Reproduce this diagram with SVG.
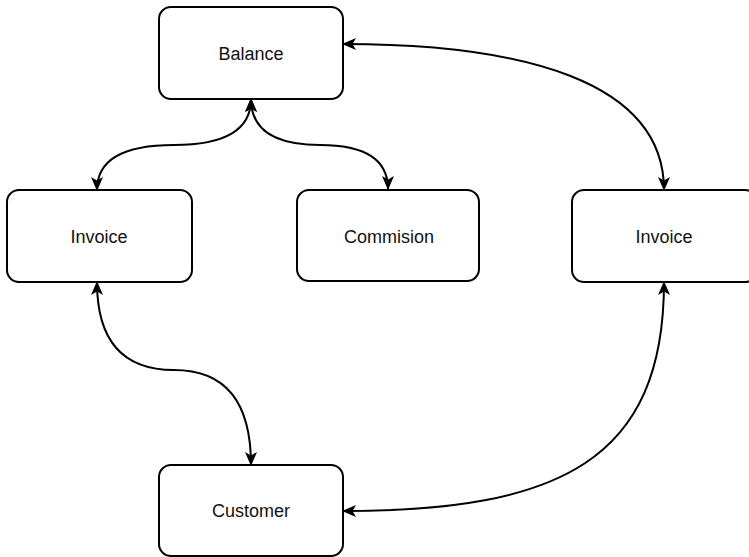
<svg xmlns="http://www.w3.org/2000/svg" width="749" height="557" viewBox="0 0 749 557">
<style>
.box{fill:#fff;stroke:#000;stroke-width:2}
.lbl{font-family:"Liberation Sans",Arial,sans-serif;font-size:18px;fill:#111;text-anchor:middle;dominant-baseline:central}
.edge{fill:none;stroke:#000;stroke-width:2;marker-start:url(#arr);marker-end:url(#arr)}
</style>
<defs>
<marker id="arr" viewBox="0 0 14 12" refX="13" refY="6" markerWidth="14" markerHeight="12" markerUnits="userSpaceOnUse" orient="auto-start-reverse">
<path d="M0,0 L14,6 L0,12 L3.5,6 Z" fill="#000"/>
</marker>
</defs>
<g id="connectors">
<path class="edge" d="M251,99 Q251,145 174,145 Q97,145 97,190"/>
<path class="edge" d="M251,99 Q251,145 320,145 Q388,145 388,189"/>
<path class="edge" d="M343,44 C520,44 664,80 664,190"/>
<path class="edge" d="M97,282 Q97,370 174,370 Q251,370 251,465"/>
<path class="edge" d="M664,282 C664,460 560,511 343,511"/>
</g>
<g id="balance"><rect class="box" x="159" y="7" width="184" height="92" rx="12"/><text class="lbl" x="251" y="54">Balance</text></g>
<g id="invoice-left"><rect class="box" x="7" y="190" width="185" height="92" rx="12"/><text class="lbl" x="99" y="237">Invoice</text></g>
<g id="commision"><rect class="box" x="297" y="190" width="182" height="91" rx="12"/><text class="lbl" x="389" y="237">Commision</text></g>
<g id="invoice-right"><rect class="box" x="572" y="190" width="185" height="92" rx="12"/><text class="lbl" x="664" y="237">Invoice</text></g>
<g id="customer"><rect class="box" x="159" y="465" width="184" height="91" rx="12"/><text class="lbl" x="251" y="511">Customer</text></g>
</svg>
